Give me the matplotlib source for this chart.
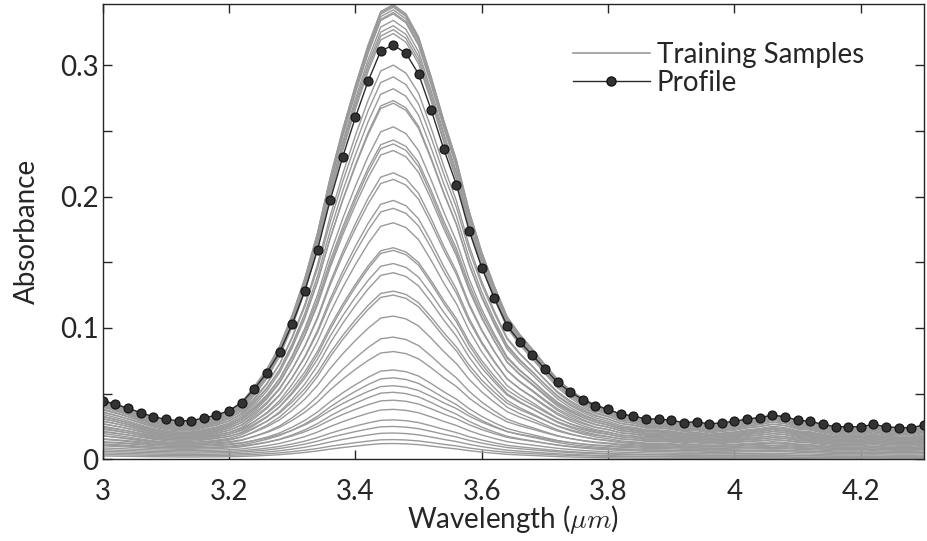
import numpy as np
import matplotlib
matplotlib.use("Agg")
import matplotlib.pyplot as plt
from matplotlib.ticker import MultipleLocator, FuncFormatter
from matplotlib.lines import Line2D

plt.rcParams['font.family'] = ['Lato', 'DejaVu Sans']
plt.rcParams['mathtext.fontset'] = 'cm'

# ---- data ----
wavelength = [3.00, 3.02, 3.04, 3.06, 3.08, 3.10, 3.12, 3.14, 3.16, 3.18,
              3.20, 3.22, 3.24, 3.26, 3.28, 3.30, 3.32, 3.34, 3.36, 3.38,
              3.40, 3.42, 3.44, 3.46, 3.48, 3.50, 3.52, 3.54, 3.56, 3.58,
              3.60, 3.62, 3.64, 3.66, 3.68, 3.70, 3.72, 3.74, 3.76, 3.78,
              3.80, 3.82, 3.84, 3.86, 3.88, 3.90, 3.92, 3.94, 3.96, 3.98,
              4.00, 4.02, 4.04, 4.06, 4.08, 4.10, 4.12, 4.14, 4.16, 4.18,
              4.20, 4.22, 4.24, 4.26, 4.28, 4.30]

profile = [0.0444, 0.0418, 0.0388, 0.0355, 0.0324, 0.0304, 0.0294, 0.0294, 0.0314, 0.0337,
           0.0370, 0.0431, 0.0537, 0.0659, 0.0815, 0.1030, 0.1283, 0.1593, 0.1970, 0.2303,
           0.2603, 0.2877, 0.3107, 0.3153, 0.3090, 0.2932, 0.2658, 0.2359, 0.2088, 0.1740,
           0.1458, 0.1225, 0.1017, 0.0895, 0.0794, 0.0687, 0.0586, 0.0512, 0.0454, 0.0408,
           0.0380, 0.0343, 0.0330, 0.0307, 0.0307, 0.0297, 0.0279, 0.0286, 0.0269, 0.0279,
           0.0289, 0.0307, 0.0317, 0.0335, 0.0324, 0.0297, 0.0289, 0.0266, 0.0248, 0.0248,
           0.0248, 0.0266, 0.0248, 0.0241, 0.0241, 0.0261]

# training samples: peak absorbance (at 3.46 um), floor level on the left (3.1 um) and at 4.3 um
sample_peak = [0.346, 0.345, 0.344, 0.342, 0.340, 0.339, 0.334, 0.330, 0.327, 0.324,
               0.300, 0.291, 0.282, 0.273, 0.271, 0.253, 0.243, 0.240, 0.235, 0.218,
               0.213, 0.197, 0.191, 0.180, 0.161, 0.159, 0.149, 0.142, 0.128, 0.125,
               0.109, 0.093, 0.082, 0.068, 0.062, 0.056, 0.051, 0.045, 0.038, 0.030,
               0.025, 0.020, 0.015, 0.012]
sample_floor_left = [0.027, 0.029, 0.026, 0.028, 0.025, 0.027, 0.024, 0.026, 0.023, 0.025,
                     0.022, 0.024, 0.021, 0.020, 0.023, 0.019, 0.021, 0.018, 0.020, 0.017,
                     0.019, 0.016, 0.018, 0.015, 0.017, 0.014, 0.016, 0.013, 0.015, 0.012,
                     0.013, 0.011, 0.012, 0.010, 0.009, 0.011, 0.008, 0.009, 0.007, 0.006,
                     0.005, 0.004, 0.003, 0.002]
sample_floor_right = [0.024, 0.023, 0.022, 0.024, 0.021, 0.023, 0.020, 0.022, 0.019, 0.021,
                      0.018, 0.020, 0.017, 0.016, 0.019, 0.015, 0.017, 0.014, 0.016, 0.013,
                      0.015, 0.012, 0.014, 0.011, 0.013, 0.010, 0.012, 0.009, 0.011, 0.008,
                      0.009, 0.007, 0.008, 0.006, 0.005, 0.007, 0.004, 0.005, 0.003, 0.002,
                      0.002, 0.001, 0.001, 0.000]

x_ticks = [3.0, 3.2, 3.4, 3.6, 3.8, 4.0, 4.2]
y_ticks = [0.0, 0.1, 0.2, 0.3]

# ---- build training curves from the profile band shape ----
x = np.array(wavelength)
prof = np.array(profile)
base_prof = 0.0299 + (0.0244 - 0.0299) * (x - 3.0) / 1.3
band = prof - base_prof
i_peak = int(np.argmax(prof))

fig = plt.figure(figsize=(9.27, 5.41), dpi=100)
ax = fig.add_axes([102.7 / 927, 1 - 459.3 / 541, (924 - 102.7) / 927, (459.3 - 4) / 541])

text_col = '#262626'
FS = 20
for pk, fl, fr in zip(sample_peak, sample_floor_left, sample_floor_right):
    floor = fl + (fr - fl) * (x - 3.0) / 1.3
    k = (pk - floor[i_peak]) / band[i_peak]
    y = floor + k * band
    ax.plot(x, y, color='#9a9a9a', lw=1.0, zorder=2)

ax.plot(x, prof, color='#2b2b2b', lw=1.0, marker='o', markersize=6.5,
        markerfacecolor='#333333', markeredgecolor='#111111', markeredgewidth=0.8, zorder=3)

ax.set_xlim(3.0, 4.3)
ax.set_ylim(0, 0.3465)
ax.set_xticks(x_ticks)
ax.set_yticks(y_ticks)
ax.yaxis.set_minor_locator(MultipleLocator(0.05))
ax.xaxis.set_major_formatter(FuncFormatter(lambda v, p: '%g' % v))
ax.yaxis.set_major_formatter(FuncFormatter(lambda v, p: '%g' % v))
ax.tick_params(which='both', direction='in', top=True, right=True, length=6.5,
               width=1.0, color=text_col, labelsize=FS, labelcolor=text_col)
ax.tick_params(axis='x', pad=14)
ax.tick_params(axis='y', pad=3)
for s in ax.spines.values():
    s.set_color(text_col)
    s.set_linewidth(1.0)

ax.set_xlabel(r'Wavelength ($\mu m$)', fontsize=FS, color=text_col, labelpad=-1)
ax.set_ylabel('Absorbance', fontsize=FS, color=text_col, labelpad=14)

h1 = Line2D([], [], color='#9a9a9a', lw=1.2)
h2 = Line2D([], [], color='#2b2b2b', lw=1.0, marker='o', markersize=6.5,
            markerfacecolor='#333333', markeredgecolor='#111111')
ax.legend([h1, h2], ['Training Samples', 'Profile'], loc='upper left',
          bbox_to_anchor=(573 / 927, 1 - 42 / 541), bbox_transform=fig.transFigure,
          frameon=False, fontsize=FS, handlelength=2.77, handletextpad=0.25,
          labelspacing=0.06, borderpad=0, borderaxespad=0, numpoints=1,
          labelcolor=text_col)

fig.savefig('out.png', dpi=100)
